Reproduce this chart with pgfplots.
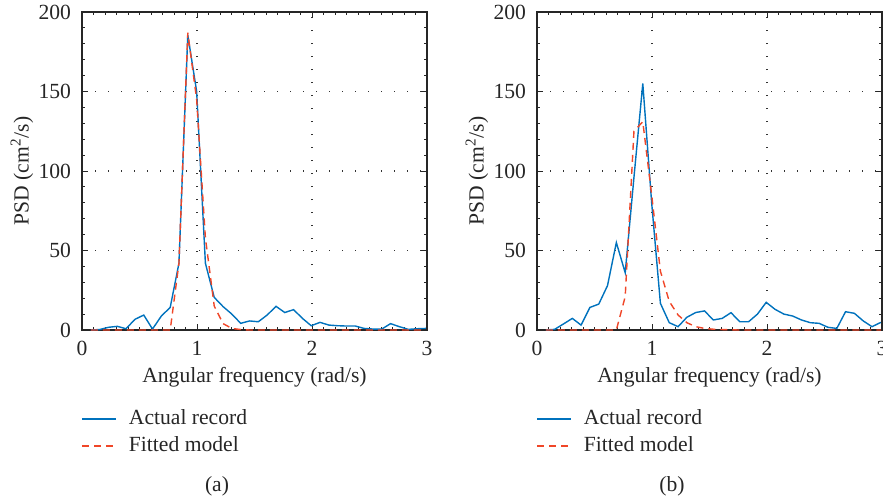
\documentclass[border=0pt]{standalone}
\usepackage{fontspec}
\setmainfont{Liberation Serif}
\usepackage{pgfplots}
\usepackage{pgfplotstable}
\pgfplotsset{compat=1.18}
\definecolor{mblue}{RGB}{0,114,189}
\definecolor{mred}{RGB}{240,70,40}

\pgfplotstableread{
w a b
0.077 0 0
0.153 0.3 0
0.230 1.7 0
0.307 2.3 0
0.383 0.8 0
0.460 6.7 0
0.537 9.4 0
0.613 0.6 0
0.690 8.8 0
0.767 14.2 0
0.843 42 42
0.920 185.5 187
0.997 150 145
1.073 42 58
1.150 20.5 15
1.227 14.7 4
1.303 10 1
1.380 4.2 0.3
1.457 5.7 0
1.533 5.2 0
1.610 9.4 0
1.687 14.9 0
1.763 11 0
1.840 12.8 0
1.917 7.3 0
1.993 2.7 0
2.070 4.8 0
2.147 3.1 0
2.223 2.7 0
2.300 2.5 0
2.377 2.5 0
2.453 1.0 0
2.530 0.6 0
2.607 0.6 0
2.683 4.0 0
2.760 2.1 0
2.837 0.4 0
2.913 0.8 0
2.990 1.0 0
}\dataA

\pgfplotstableread{
w a b
0.077 0 0
0.153 0.4 0
0.230 3.8 0
0.307 7.3 0
0.383 3.1 0
0.460 14.2 0
0.537 16.3 0
0.613 27.9 0
0.690 55 0
0.767 36 21
0.843 96 125
0.920 155 131
0.997 80 85
1.073 16.8 37
1.150 4.6 18
1.227 2.1 9.4
1.303 8 4.6
1.380 11 2.1
1.457 12 1
1.533 6.3 0.5
1.610 7.3 0.3
1.687 10.9 0.1
1.763 5.2 0
1.840 5.2 0
1.917 10 0
1.993 17.4 0
2.070 13 0
2.147 10 0
2.223 8.8 0
2.300 6.3 0
2.377 4.6 0
2.453 4.2 0
2.530 1.7 0
2.607 1.0 0
2.683 11.5 0
2.760 10.5 0
2.837 5.7 0
2.913 2.1 0
2.990 4.8 0
}\dataB

\pgfplotsset{psd/.style={
  scale only axis, width=172.5pt, height=159pt,
  xmin=0, xmax=3, ymin=0, ymax=200,
  xtick={0,1,2,3}, ytick={0,50,100,150,200},
  minor x tick num=9, minor y tick num=4,
  tick align=inside, major tick length=3pt, minor tick length=1.5pt,
  xmajorgrids, ymajorgrids,
  major grid style={black!80, line width=0.6pt, dash pattern=on 0.6pt off 5.9pt},
  axis line style={black!85, line width=0.6pt},
  tick style={black!85, line width=0.5pt},
  /pgf/number format/assume math mode=true,
  every tick label/.append style={font=\fontsize{10.8}{13}\selectfont, text=black!85},
  xticklabel style={yshift=-2.2pt},
  yticklabel style={xshift=-2pt},
  xlabel={Angular frequency (rad/s)},
  ylabel={PSD (cm\textsuperscript{2}/s)},
  label style={font=\fontsize{10.8}{13}\selectfont, text=black!85},
  xlabel style={at={(axis description cs:0.5,-0.150)}, anchor=center},
  ylabel style={at={(axis description cs:-0.174,0.5)}, anchor=center},
  legend cell align=left,
  legend style={at={(axis description cs:0,0)}, anchor=north west, yshift=-38.5pt, xshift=-0.5pt,
    draw=none, fill=none, inner sep=0pt, row sep=2pt, column sep=5pt,
    font=\fontsize{10.8}{13}\selectfont,
    nodes={inner sep=1pt, text height=7.5pt, text depth=2pt, text=black!85}},
}}

\begin{document}
\begin{tikzpicture}
\useasboundingbox (0,0) rectangle (441.5pt,250pt);
\begin{axis}[psd, at={(41pt,85pt)}, anchor=south west]
  \addplot[mblue, line width=0.7pt] table[x=w, y=a] {\dataA};
  \addlegendentry{Actual record}
  \addplot[mred, line width=0.7pt, dash pattern=on 3.5pt off 2.5pt] table[x=w, y=b] {\dataA};
  \addlegendentry{Fitted model}
\end{axis}
\begin{axis}[psd, at={(268.5pt,85pt)}, anchor=south west]
  \addplot[mblue, line width=0.7pt] table[x=w, y=a] {\dataB};
  \addlegendentry{Actual record}
  \addplot[mred, line width=0.7pt, dash pattern=on 3.5pt off 2.5pt] table[x=w, y=b] {\dataB};
  \addlegendentry{Fitted model}
\end{axis}
\node[font=\fontsize{10.8}{13}\selectfont, text=black!85] at (108.5pt,6.8pt) {(a)};
\node[font=\fontsize{10.8}{13}\selectfont, text=black!85] at (336pt,6.8pt) {(b)};
\end{tikzpicture}
\end{document}
